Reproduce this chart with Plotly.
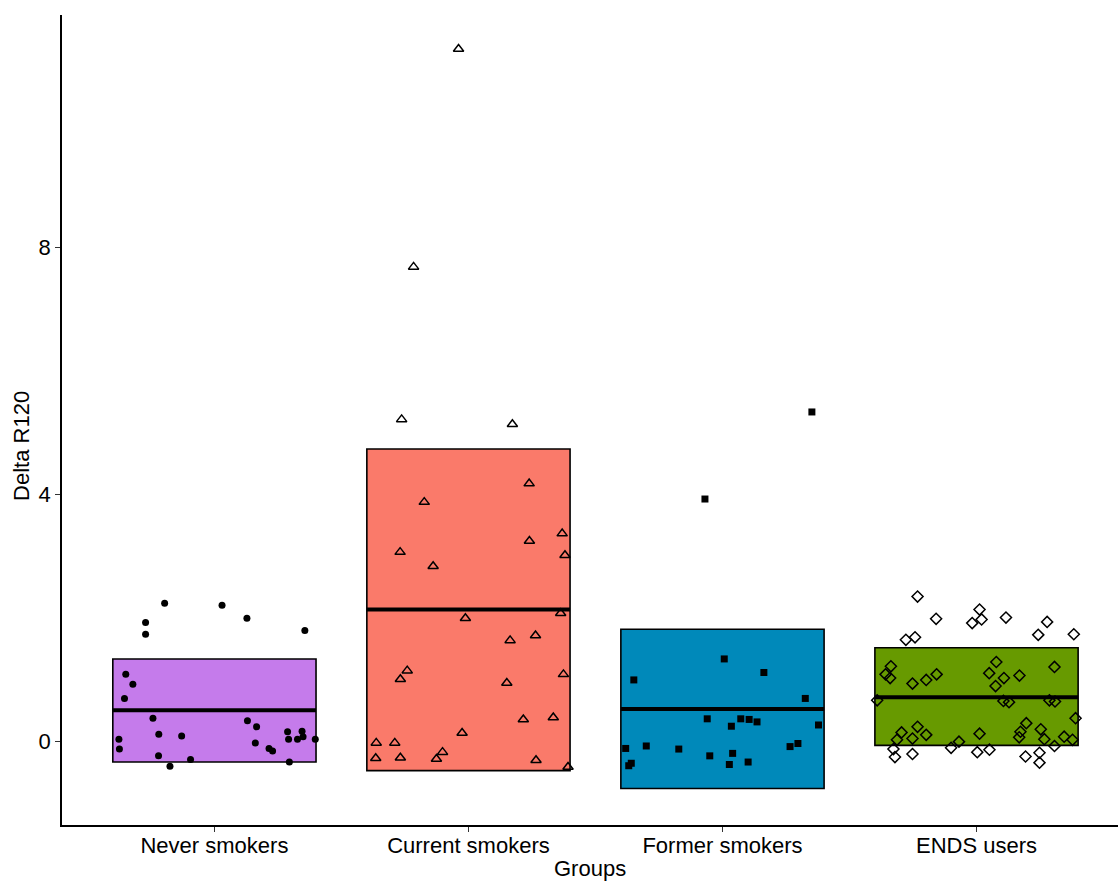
import plotly.graph_objects as go

categories = ["Never smokers", "Current smokers", "Former smokers", "ENDS users"]
box_lower = [-0.34, -0.48, -0.77, -0.07]
box_mid = [0.50, 2.13, 0.52, 0.71]
box_upper = [1.33, 4.73, 1.81, 1.51]
box_colors = ["#C57BEB", "#FA7A6A", "#0089BA", "#679A00"]

never_y = [2.23, 2.20, 1.99, 1.92, 1.73, 1.79, 1.08, 0.92, 0.69, 0.37, 0.33, 0.23, 0.03, -0.13,
           0.11, 0.08, -0.24, -0.41, -0.30, -0.03, -0.12, -0.16, 0.15, 0.03, 0.03, 0.16, 0.07,
           0.03, -0.34]
never_jit = [-0.196, 0.030, 0.128, -0.271, -0.271, 0.356, -0.349, -0.321, -0.354, -0.242, 0.130,
             0.166, -0.376, -0.374, -0.219, -0.129, -0.220, -0.175, -0.094, 0.161, 0.215, 0.229,
             0.288, 0.292, 0.327, 0.345, 0.349, 0.397, 0.295]

current_y = [4.17, 3.87, 3.36, 3.24, 3.06, 3.01, 2.83, 2.07, 1.99, 1.63, 1.71, 1.14, 1.00, 0.94,
             1.08, 0.35, 0.38, 0.13, -0.03, -0.03, -0.28, -0.27, -0.18, -0.29, -0.31, -0.42,
             11.21, 7.68, 5.21, 5.13]
current_jit = [0.239, -0.174, 0.369, 0.240, -0.269, 0.380, -0.139, 0.363, -0.012, 0.164, 0.264,
               -0.241, -0.268, 0.151, 0.374, 0.216, 0.334, -0.025, -0.363, -0.290, -0.365, -0.268,
               -0.102, -0.126, 0.266, 0.392, -0.039, -0.216, -0.263, 0.173]

former_y = [1.33, 1.11, 0.99, 0.69, 0.36, 0.24, 0.36, 0.35, 0.31, 0.26, -0.12, -0.08, -0.13, -0.24,
            -0.20, -0.38, -0.34, -0.09, -0.04, -0.40, -0.36, 5.33, 3.92]
former_jit = [0.007, 0.163, -0.349, 0.326, -0.060, 0.035, 0.072, 0.105, 0.136, 0.378, -0.381, -0.300,
              -0.172, -0.050, 0.040, 0.027, 0.101, 0.266, 0.297, -0.369, -0.359, 0.352, -0.069]

ends_y = [2.34, 2.13, 1.98, 1.97, 1.91, 2.00, 1.93, 1.72, 1.73, 1.64, 1.68, 1.21, 1.08, 1.02, 0.93,
          0.99, 1.08, 1.28, 1.10, 1.02, 0.89, 1.06, 1.20, 0.66, 0.65, 0.63, 0.66, 0.64, 0.37, 0.23,
          0.14, 0.10, 0.04, 0.02, 0.12, 0.29, 0.15, 0.06, 0.19, 0.03, 0.07, 0.02, -0.01, -0.11,
          -0.14, -0.18, -0.08, -0.13, -0.26, -0.21, -0.25, -0.19, -0.35]
ends_jit = [-0.232, 0.012, -0.159, 0.020, -0.017, 0.116, 0.278, 0.243, 0.383, -0.278, -0.242, -0.337,
            -0.358, -0.340, -0.252, -0.198, -0.157, 0.078, 0.050, 0.108, 0.075, 0.169, 0.307, -0.391,
            0.106, 0.128, 0.287, 0.309, 0.390, -0.232, -0.295, -0.198, -0.252, -0.313, 0.012, 0.196,
            0.173, 0.168, 0.253, 0.267, 0.345, 0.378, -0.069, -0.100, 0.051, 0.003, 0.307, -0.327,
            -0.321, -0.252, 0.193, 0.248, 0.248]

y_ticks = [0, 4, 8]
y_range = [-1.36, 11.76]
x_range = [0.4, 4.557]
box_width = 0.8

fig = go.Figure()
pos = [1, 2, 3, 4]

# crossbars
for i, p in enumerate(pos):
    fig.add_trace(go.Bar(
        x=[p], y=[box_upper[i] - box_lower[i]], base=[box_lower[i]], width=box_width,
        marker=dict(color=box_colors[i], line=dict(color="black", width=1.6)),
        showlegend=False, hoverinfo="skip"))
for i, p in enumerate(pos):
    fig.add_trace(go.Scatter(
        x=[p - box_width / 2, p + box_width / 2], y=[box_mid[i], box_mid[i]],
        mode="lines", line=dict(color="black", width=4), showlegend=False, hoverinfo="skip"))

groups = [
    (never_y, never_jit, dict(symbol="circle", size=7, color="black", line=dict(width=0))),
    (current_y, current_jit, dict(symbol="triangle-up-open", size=9, color="black", line=dict(width=1.5))),
    (former_y, former_jit, dict(symbol="square", size=7, color="black", line=dict(width=0))),
    (ends_y, ends_jit, dict(symbol="diamond-open", size=8.5, color="black", line=dict(width=1.5))),
]
for i, (ys, js, mk) in enumerate(groups):
    fig.add_trace(go.Scatter(
        x=[pos[i] + j for j in js], y=ys, mode="markers", marker=mk, showlegend=False))

font_family = "Liberation Sans, Arial, Helvetica, sans-serif"
fig.update_layout(
    width=1118, height=881,
    margin=dict(l=62, r=0, t=15, b=56),
    paper_bgcolor="white", plot_bgcolor="white",
    font=dict(family=font_family, size=22, color="black"),
    barmode="overlay",
    xaxis=dict(range=x_range, tickvals=pos, ticktext=categories, showgrid=False, zeroline=False,
               showline=True, linecolor="black", linewidth=1.5, ticks="outside", ticklen=5,
               tickwidth=1.2, tickcolor="#333333", ticklabelstandoff=-5,
               tickfont=dict(size=22, color="black")),
    yaxis=dict(range=y_range, tickvals=y_ticks, showgrid=False, zeroline=False,
               showline=True, linecolor="black", linewidth=1.5, ticks="outside", ticklen=5,
               tickwidth=1.2, tickcolor="#333333", tickfont=dict(size=22, color="black")),
    annotations=[
        dict(text="Groups", xref="paper", yref="paper", x=0.5, y=-0.0531, xanchor="center",
             yanchor="middle", showarrow=False, font=dict(size=22)),
        dict(text="Delta R120", xref="paper", yref="paper", x=-0.0379, y=0.468, xanchor="center",
             yanchor="middle", textangle=-90, showarrow=False, font=dict(size=22)),
    ],
)

fig.write_html(
    "out.html",
    config={"displayModeBar": False},
    post_script="document.body.style.margin='0';document.body.style.overflow='hidden';",
)
